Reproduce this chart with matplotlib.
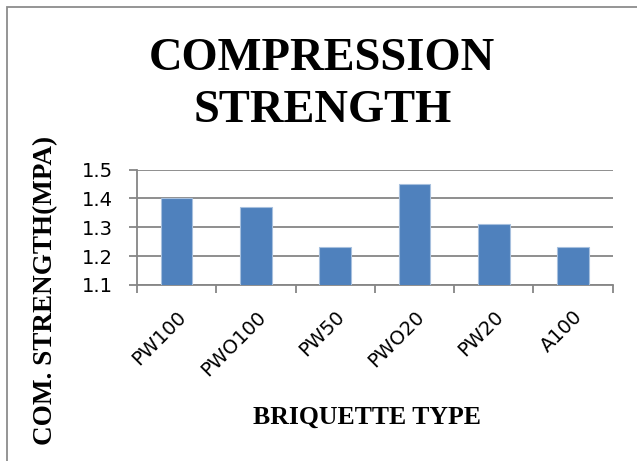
import matplotlib
matplotlib.use("Agg")
import matplotlib.pyplot as plt
import matplotlib.patches as mpatches
import numpy as np

# ── data ────────────────────────────────────────────────────────────────────
briquettes = ["PW100", "PWO100", "PW50", "PWO20", "PW20", "A100"]
strength   = [1.40, 1.37, 1.23, 1.45, 1.31, 1.23]
y_ticks    = [1.1, 1.2, 1.3, 1.4, 1.5]

GRID  = "#868686"
BAR   = "#4F81BD"
SERIF = ["Liberation Serif", "DejaVu Serif"]
SANS  = ["DejaVu Sans"]

fig = plt.figure(figsize=(6.37, 4.61), dpi=100)
ax = fig.add_axes([0.215, 0.382, 0.747, 0.250])

x = np.arange(len(briquettes))
ax.bar(x, strength, width=0.4, color=BAR, edgecolor="#A7C0DE",
       linewidth=0.8, zorder=3)

ax.set_ylim(1.1, 1.5)
ax.set_xlim(-0.5, len(briquettes) - 0.5)
ax.set_yticks(y_ticks)
ax.set_yticklabels([f"{v:.1f}" for v in y_ticks], fontsize=14, family=SANS)
ax.yaxis.grid(True, color=GRID, linewidth=1.3, zorder=0)

# category boundaries get the tick marks, labels sit in the middle
ax.set_xticks(np.arange(-0.5, len(briquettes)), labels=[""] * (len(briquettes) + 1))
ax.set_xticks(x, labels=briquettes, minor=True)
ax.tick_params(axis="x", which="minor", length=0, pad=16)
ax.tick_params(axis="x", which="major", length=6, color=GRID, width=1.3)
ax.tick_params(axis="y", length=6, color=GRID, width=1.3, pad=11)
for lbl in ax.get_xticklabels(minor=True):
    lbl.set_rotation(45)
    lbl.set_ha("right")
    lbl.set_va("top")
    lbl.set_rotation_mode("anchor")
    lbl.set_fontsize(14)
    lbl.set_family(SANS)

for side in ("top", "right"):
    ax.spines[side].set_visible(False)
for side in ("left", "bottom"):
    ax.spines[side].set_color(GRID)
    ax.spines[side].set_linewidth(1.3)

# ── titles ──────────────────────────────────────────────────────────────────
fig.text(0.506, 0.815, "COMPRESSION\nSTRENGTH", ha="center", va="center",
         fontsize=33.5, fontweight="bold", family=SERIF, linespacing=1.3)
fig.text(0.576, 0.095, "BRIQUETTE TYPE", ha="center", va="center",
         fontsize=18.5, fontweight="bold", family=SERIF)
fig.text(0.072, 0.37, "COM. STRENGTH(MPA)", ha="center", va="center",
         rotation=90, fontsize=19.5, fontweight="bold", family=SERIF)

# ── chart frame (cut off at right and bottom) ───────────────────────────────
fig.patches.append(mpatches.Rectangle((0.011, -0.05), 1.05, 1.035,
                                      transform=fig.transFigure, fill=False,
                                      edgecolor="#8C8C8C", linewidth=1.3))

plt.savefig("out.png", dpi=100)
